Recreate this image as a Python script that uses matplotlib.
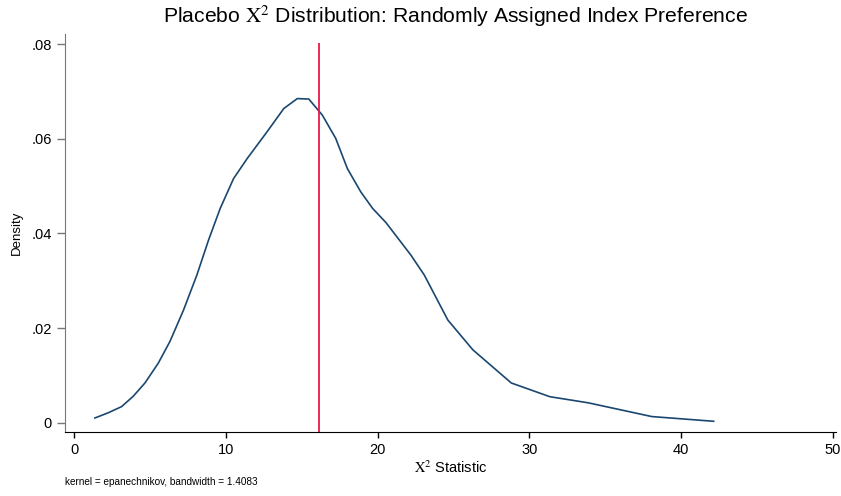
import matplotlib.pyplot as plt

plt.rcParams["font.family"] = ["Liberation Sans", "DejaVu Sans"]
plt.rcParams["mathtext.fontset"] = "stix"

# kernel density estimate
chi2_stat = [1.36, 2.24, 3.12, 3.89, 4.66, 5.54, 6.31, 7.20, 8.08, 8.85,
             9.62, 10.50, 11.39, 12.71, 13.81, 14.70, 15.46, 16.35, 17.23, 18.00,
             18.88, 19.66, 20.54, 22.19, 23.07, 24.62, 26.27, 28.80, 31.34, 33.88,
             38.06, 42.14]
density = [0.0010, 0.0021, 0.0034, 0.0056, 0.0084, 0.0126, 0.0172, 0.0238, 0.0312, 0.0386,
           0.0453, 0.0516, 0.0558, 0.0615, 0.0664, 0.0685, 0.0684, 0.0650, 0.0601, 0.0537,
           0.0488, 0.0453, 0.0423, 0.0354, 0.0312, 0.0217, 0.0154, 0.0084, 0.0055, 0.0042,
           0.0013, 0.0003]
observed_stat = 16.1

x_ticks = [0, 10, 20, 30, 40, 50]
y_ticks = [0, 0.02, 0.04, 0.06, 0.08]
y_tick_labels = ["0", ".02", ".04", ".06", ".08"]

fig = plt.figure(figsize=(8.41, 4.96), dpi=100)
ax = fig.add_axes([0.0773, 0.1284, 0.9167, 0.8026])

ax.plot(chi2_stat, density, color="#1a476f", lw=1.2)
ax.vlines(observed_stat, -0.00203, 0.0802, color="#e8194a", lw=1.3)

ax.set_xlim(-0.61, 50.2)
ax.set_ylim(-0.00203, 0.0821)
ax.set_xticks(x_ticks)
ax.set_yticks(y_ticks)
ax.set_yticklabels(y_tick_labels)

for side in ["top", "right"]:
    ax.spines[side].set_visible(False)
ax.spines["left"].set_color("#777777")
ax.spines["bottom"].set_color("black")
ax.tick_params(axis="y", colors="#777777", labelcolor="black", length=6, width=1, labelsize=10.5)
ax.tick_params(axis="x", colors="black", length=4, width=1, labelsize=10.5)

ax.set_ylabel("Density", fontsize=9.5, labelpad=6)
ax.set_xlabel(r"$\mathrm{X}^2$ Statistic", fontsize=10.5, labelpad=2)
fig.suptitle(r"Placebo $\mathrm{X}^2$ Distribution: Randomly Assigned Index Preference",
             fontsize=15.2, x=0.542, y=0.992, va="top")
fig.text(0.0773, 0.022, "kernel = epanechnikov, bandwidth = 1.4083", fontsize=7.2)

fig.savefig("out.png", dpi=100)
